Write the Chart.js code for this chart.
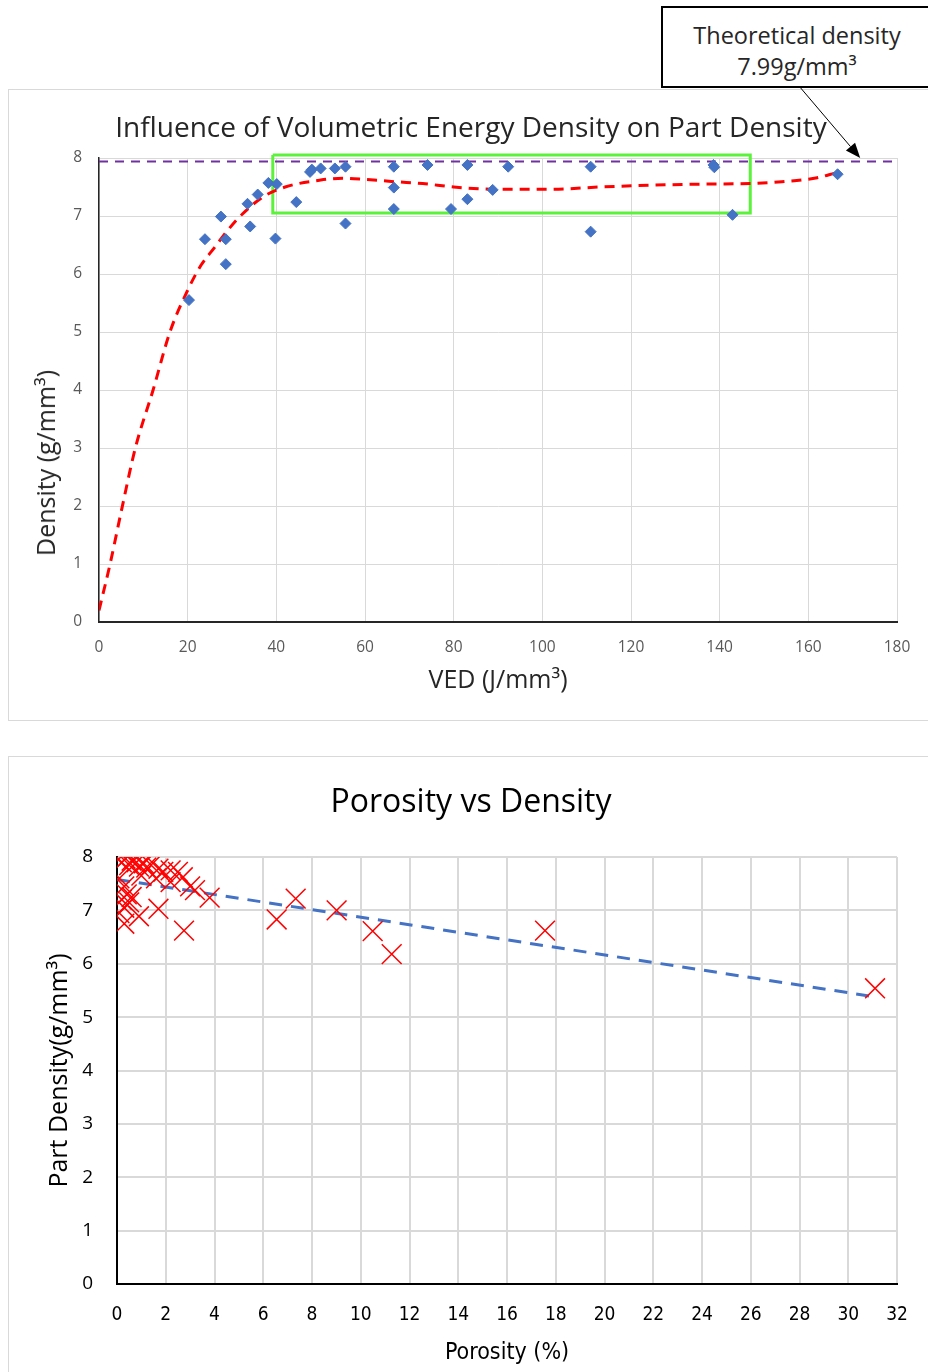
<!DOCTYPE html>
<html>
<head>
<meta charset="utf-8">
<title>VED vs density</title>
<script src="https://cdn.jsdelivr.net/npm/chart.js@4.4.1/dist/chart.umd.min.js"></script>
<style>
    body { margin: 0; width: 928px; height: 1372px; background: #fff; position: relative; overflow: hidden; font-family: 'Open Sans', sans-serif; }
    .card { position: absolute; border: 1px solid #d9d9d9; background: #fff; }
    #card1 { left: 8px; top: 89px; width: 930px; height: 630px; }
    #card2 { left: 8px; top: 756px; width: 930px; height: 640px; }
    .wrap { position: absolute; left: 0; width: 928px; }
    #wrap1 { top: 0; height: 740px; }
    #wrap2 { top: 740px; height: 632px; }
    .label { position: absolute; white-space: nowrap; z-index: 4; }
    .chart-title { left: 0; width: 942px; text-align: center; }
    #title1 { top: 107px; font-size: 28px; line-height: 38px; color: #262626; }
    #title2 { top: 778px; font-size: 32px; line-height: 44px; color: #000; }
    #ytitle1 {
        left: 45px; top: 463px; font-size: 25px; line-height: 30px; color: #262626;
        transform: translate(-50%, -50%) rotate(-90deg);
    }
    #callout {
        position: absolute; left: 661px; top: 6px; width: 272px; height: 82px;
        border: 2px solid #000; background: #fff; z-index: 5;
        text-align: center; color: #262626; font-size: 23.5px; line-height: 31px; padding-top: 12px; box-sizing: border-box;
    }
</style>
</head>
<body>
<div class="card" id="card1"></div>
<div class="card" id="card2"></div>
<div class="wrap" id="wrap1"><canvas id="vedChart" width="928" height="740"></canvas></div>
<div class="wrap" id="wrap2"><canvas id="porosityChart" width="928" height="632"></canvas></div>
<div class="label chart-title" id="title1">Influence of Volumetric Energy Density on Part Density</div>
<div class="label chart-title" id="title2">Porosity vs Density</div>
<div class="label" id="ytitle1">Density (g/mm³)</div>
<div id="callout">Theoretical density<br>7.99g/mm³</div>

<script>
// --- top chart: VED vs density ---
const vedValues = [20.3, 23.9, 27.5, 28.6, 28.6, 33.5, 34.1, 35.8, 38.2, 40.1, 39.8, 44.5, 47.6, 48.0, 50.0, 53.2, 55.6, 55.6,
    66.5, 66.5, 66.5, 74.1, 79.4, 83.1, 83.1, 88.8, 92.3, 110.9, 110.9, 138.6, 138.8, 142.9, 166.6];
const densityValues = [5.55, 6.60, 6.99, 6.60, 6.17, 7.21, 6.82, 7.37, 7.57, 7.55, 6.61, 7.24, 7.76, 7.80, 7.82, 7.82, 7.85, 6.87,
    7.85, 7.49, 7.12, 7.88, 7.12, 7.88, 7.29, 7.45, 7.85, 7.85, 6.73, 7.88, 7.84, 7.02, 7.72];

// polynomial trend
const trendVed = [0, 2.5, 5, 8.2, 12.2, 16, 20, 23, 26, 29, 32.3, 37, 42, 50, 55, 60, 67, 73, 80, 90, 102, 113, 124, 136, 147, 154, 162, 166];
const trendDensity = [0.2, 1.0, 1.9, 3.0, 4.0, 5.0, 5.72, 6.15, 6.45, 6.75, 7.03, 7.33, 7.5, 7.62, 7.65, 7.63, 7.59, 7.56, 7.5, 7.46, 7.46, 7.5, 7.53, 7.55, 7.56, 7.59, 7.66, 7.74];

const theoreticalVed = [0, 180];
const theoreticalDensity = [7.94, 7.94];

// highlighted window (green box)
const boxVed = [39.2, 146.9, 146.9, 39.2, 39.2];
const boxDensity = [8.05, 8.05, 7.05, 7.05, 8.05];

const vedTicks = { min: 0, max: 180, step: 20 };
const densityTicks = { min: 0, max: 8, step: 1 };

// --- bottom chart: porosity vs density ---
const porosityValues = [0.05, 0.2, 0.35, 0.5, 0.6, 0.8, 0.9, 1.1, 1.2, 1.4, 1.7, 1.9, 2.2, 2.5, 2.7, 2.2, 1.6, 1.0,
    3.2, 3.8, 3.0, 0.1, 0.3, 0.4, 0.2, 0.5, 0.3, 0.6, 0.1, 0.9, 0.3, 1.7, 2.75,
    6.55, 7.33, 9.01, 10.49, 11.27, 17.56, 31.1];
const partDensityValues = [7.95, 7.9, 7.97, 7.85, 7.93, 7.9, 7.82, 7.88, 7.8, 7.85, 7.78, 7.72, 7.75, 7.72, 7.62, 7.53, 7.6, 7.65,
    7.38, 7.24, 7.45, 7.6, 7.45, 7.3, 7.2, 7.15, 7.05, 7.25, 6.95, 6.89, 6.75, 7.03, 6.62,
    6.83, 7.22, 7.0, 6.61, 6.18, 6.62, 5.54];

const linearPorosity = [0, 31.1];
const linearDensity = [7.58, 5.38];

const porosityTicks = { min: 0, max: 32, step: 2 };

function toPoints(xs, ys) {
    return xs.map((x, i) => ({ x: x, y: ys[i] }));
}

const narrowFont = "'DejaVu Sans Condensed', 'Open Sans', sans-serif";

// arrow from the callout box down to the theoretical line
const arrowPlugin = {
    id: 'arrowPlugin',
    afterDraw(chart) {
        const ctx = chart.ctx;
        const tipX = chart.scales.x.getPixelForValue(171.7);
        const tipY = chart.scales.y.getPixelForValue(8.0);
        const startX = 799;
        const startY = 86;
        const ang = Math.atan2(tipY - startY, tipX - startX);
        const headLen = 15;
        const headW = 6;
        const bx = tipX - Math.cos(ang) * headLen;
        const by = tipY - Math.sin(ang) * headLen;
        ctx.save();
        ctx.strokeStyle = '#000';
        ctx.fillStyle = '#000';
        ctx.lineWidth = 1;
        ctx.beginPath();
        ctx.moveTo(startX, startY);
        ctx.lineTo(bx, by);
        ctx.stroke();
        ctx.beginPath();
        ctx.moveTo(tipX, tipY);
        ctx.lineTo(bx + Math.sin(ang) * headW, by - Math.cos(ang) * headW);
        ctx.lineTo(bx - Math.sin(ang) * headW, by + Math.cos(ang) * headW);
        ctx.closePath();
        ctx.fill();
        ctx.restore();
    }
};

new Chart(document.getElementById('vedChart'), {
    type: 'scatter',
    data: {
        datasets: [
            {
                label: 'Density',
                data: toPoints(vedValues, densityValues),
                pointStyle: 'rectRot',
                pointRadius: 5.5,
                backgroundColor: '#4472C4',
                borderColor: '#4472C4',
                borderWidth: 1,
                order: 0
            },
            {
                label: 'Trend',
                data: toPoints(trendVed, trendDensity),
                showLine: true,
                pointRadius: 0,
                borderColor: '#FF0000',
                borderWidth: 3,
                borderDash: [10, 7],
                cubicInterpolationMode: 'monotone',
                fill: false,
                order: 1
            },
            {
                label: 'Theoretical density',
                data: toPoints(theoreticalVed, theoreticalDensity),
                showLine: true,
                pointRadius: 0,
                borderColor: '#7030A0',
                borderWidth: 2,
                borderDash: [9, 7],
                fill: false,
                order: 2
            },
            {
                label: 'Window',
                data: toPoints(boxVed, boxDensity),
                showLine: true,
                pointRadius: 0,
                borderColor: '#5CF23C',
                borderWidth: 3,
                fill: false,
                clip: false,
                order: 3
            }
        ]
    },
    options: {
        responsive: false,
        animation: false,
        layout: { padding: { left: 20, right: 31, top: 158, bottom: 20 } },
        plugins: {
            legend: { display: false },
            tooltip: { enabled: false }
        },
        scales: {
            x: {
                type: 'linear',
                min: vedTicks.min,
                max: vedTicks.max,
                ticks: { stepSize: vedTicks.step, padding: 16, color: '#595959', font: { family: 'Open Sans', size: 15.5 } },
                grid: { color: '#d9d9d9', lineWidth: 1, drawTicks: false },
                border: { color: '#262626', width: 2 },
                title: {
                    display: true, text: 'VED (J/mm³)', color: '#262626',
                    font: { family: 'Open Sans', size: 25 }, padding: { top: 0, bottom: 24 }
                },
                afterFit(scale) { scale.height = 98; }
            },
            y: {
                type: 'linear',
                min: densityTicks.min,
                max: densityTicks.max,
                ticks: { stepSize: densityTicks.step, padding: 17, color: '#595959', font: { family: 'Open Sans', size: 15.5 } },
                grid: { color: '#d9d9d9', lineWidth: 1, drawTicks: false },
                border: { color: '#262626', width: 1.5 },
                afterFit(scale) { scale.width = 79; }
            }
        }
    },
    plugins: [arrowPlugin]
});

new Chart(document.getElementById('porosityChart'), {
    type: 'scatter',
    data: {
        datasets: [
            {
                label: 'Part density',
                data: toPoints(porosityValues, partDensityValues),
                pointStyle: 'crossRot',
                pointRadius: 14,
                borderColor: '#FF0000',
                backgroundColor: '#FF0000',
                borderWidth: 1.5,
                order: 0
            },
            {
                label: 'Linear trend',
                data: toPoints(linearPorosity, linearDensity),
                showLine: true,
                pointRadius: 0,
                borderColor: '#4472C4',
                borderWidth: 3,
                borderDash: [13, 9],
                fill: false,
                order: 1
            }
        ]
    },
    options: {
        responsive: false,
        animation: false,
        layout: { padding: { left: 20, right: 31, top: 117, bottom: 0 } },
        plugins: {
            legend: { display: false },
            tooltip: { enabled: false }
        },
        scales: {
            x: {
                type: 'linear',
                min: porosityTicks.min,
                max: porosityTicks.max,
                ticks: { stepSize: porosityTicks.step, padding: 20, color: '#000', font: { family: narrowFont, size: 19 } },
                grid: { color: '#d9d9d9', lineWidth: 2, drawTicks: false },
                border: { color: '#000', width: 2 },
                title: {
                    display: true, text: 'Porosity (%)', color: '#000',
                    font: { family: narrowFont, size: 23 }, padding: { top: 0, bottom: 5 }
                },
                afterFit(scale) { scale.height = 88; }
            },
            y: {
                type: 'linear',
                min: densityTicks.min,
                max: densityTicks.max,
                ticks: { stepSize: densityTicks.step, padding: 24, color: '#000', font: { family: 'Open Sans', size: 19 } },
                grid: { color: '#d9d9d9', lineWidth: 2, drawTicks: false },
                border: { color: '#000', width: 2 },
                title: {
                    display: true, text: 'Part Density(g/mm³)', color: '#000',
                    font: { family: 'Open Sans', size: 25 }, padding: { top: 25, bottom: 0 }
                },
                afterFit(scale) { scale.width = 97; }
            }
        }
    }
});
</script>
</body>
</html>
